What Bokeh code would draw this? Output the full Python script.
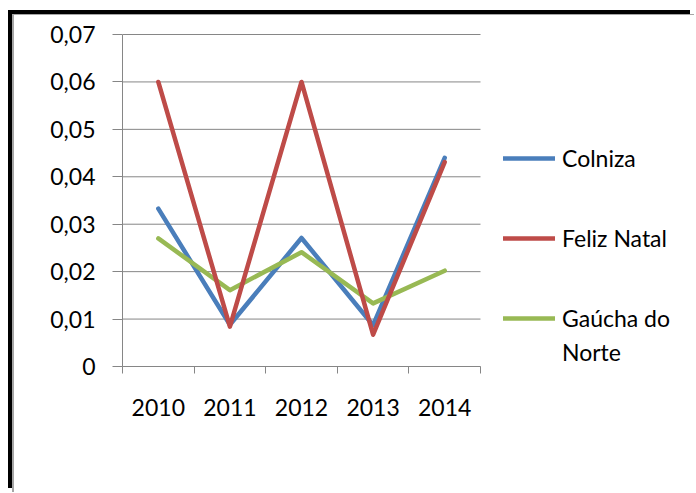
from bokeh.plotting import figure
from bokeh.models import Legend, LegendItem, FixedTicker, Range1d
from bokeh.embed import file_html
from bokeh.resources import INLINE

# Data
years = ["2010", "2011", "2012", "2013", "2014"]
colniza = [0.0333, 0.0088, 0.0271, 0.0087, 0.0440]
feliz_natal = [0.0600, 0.0084, 0.0600, 0.0067, 0.0431]
gaucha_do_norte = [0.0270, 0.0161, 0.0241, 0.0133, 0.0202]

y_ticks = [0.0, 0.01, 0.02, 0.03, 0.04, 0.05, 0.06, 0.07]
y_labels = ["0", "0,01", "0,02", "0,03", "0,04", "0,05", "0,06", "0,07"]

FONT = "Lato"
FONT_SIZE = "23px"
GRID = "#868686"

# canvas layout (px); the frame runs to the right edge so the legend
# can sit inside it, to the right of the plotted slots
CANVAS_W, CANVAS_H = 682, 478
BORDER_L, BORDER_T, BORDER_B = 108, 18, 127
FRAME_W = CANVAS_W - BORDER_L
FRAME_H = CANVAS_H - BORDER_T - BORDER_B
SLOT_PX = 71.6          # width of one year slot
PLOT_H = 332            # height of the 0 .. top-tick span

n = len(years)
x_pos = [i + 0.5 for i in range(n)]       # series sit mid-slot
slot_edges = list(range(n + 1))            # tick marks on slot edges
y_top = y_ticks[-1]

p = figure(
    width=CANVAS_W, height=CANVAS_H,
    x_range=Range1d(0, FRAME_W / SLOT_PX),
    y_range=Range1d(y_ticks[0], y_top * FRAME_H / PLOT_H),
    output_backend="svg", toolbar_location=None,
    min_border_left=BORDER_L, min_border_top=BORDER_T,
    min_border_right=0, min_border_bottom=BORDER_B,
    background_fill_color="white", border_fill_color="white",
)
p.outline_line_color = None
p.xgrid.visible = False
p.ygrid.visible = False

# horizontal gridlines across the year slots only
p.segment(x0=0, x1=n, y0=y_ticks, y1=y_ticks, line_color=GRID, line_width=1)

# value axis
yax = p.yaxis[0]
yax.bounds = (y_ticks[0], y_top)
yax.ticker = FixedTicker(ticks=y_ticks)
yax.major_label_overrides = dict(zip(y_ticks, y_labels))
yax.axis_line_color = GRID
yax.major_tick_line_color = GRID
yax.major_tick_out = 10
yax.major_tick_in = 0
yax.minor_tick_line_color = None
yax.major_label_standoff = 17
yax.major_label_text_font = FONT
yax.major_label_text_font_size = FONT_SIZE
yax.major_label_text_color = "black"

# year axis: labels centred in slots, tick marks on slot edges
xax = p.xaxis[0]
xax.bounds = (0, n)
xax.ticker = FixedTicker(ticks=x_pos, minor_ticks=slot_edges)
xax.major_label_overrides = dict(zip(x_pos, years))
xax.axis_line_color = GRID
xax.major_tick_line_color = None
xax.major_tick_out = 0
xax.major_tick_in = 0
xax.minor_tick_line_color = GRID
xax.minor_tick_out = 7
xax.minor_tick_in = 0
xax.major_label_standoff = 25
xax.major_label_text_font = FONT
xax.major_label_text_font_size = FONT_SIZE
xax.major_label_text_color = "black"

line_kw = dict(line_width=4.5, line_cap="round", line_join="round")
r1 = p.line(x_pos, colniza, line_color="#4A7EBB", **line_kw)
r3 = p.line(x_pos, gaucha_do_norte, line_color="#98B954", **line_kw)
r2 = p.line(x_pos, feliz_natal, line_color="#BE4B48", **line_kw)

legend_style = dict(
    glyph_width=52, glyph_height=22,
    label_standoff=7, padding=0, margin=0,
    border_line_color=None, background_fill_alpha=0,
    label_text_font=FONT, label_text_font_size=FONT_SIZE, label_text_color="black",
)
legend = Legend(
    items=[
        LegendItem(label="Colniza", renderers=[r1]),
        LegendItem(label="Feliz Natal", renderers=[r2]),
        LegendItem(label="Gaúcha do", renderers=[r3]),
    ],
    location=(381, 34), spacing=52, **legend_style,
)
# second line of the last entry's name
legend_wrap = Legend(
    items=[LegendItem(label="Norte", renderers=[])],
    location=(381, 0), **legend_style,
)
p.add_layout(legend, "center")
p.add_layout(legend_wrap, "center")

# chart-area frame: thin grey edge inside a heavy black edge
p.styles = {
    "margin-left": "12px", "margin-top": "14px",
    "border-left": "2px solid #a6a6a6", "border-top": "1px solid #a6a6a6",
    "box-shadow": "-4px -4px 0 0 #000",
}

open("out.html", "w").write(file_html(p, INLINE))
